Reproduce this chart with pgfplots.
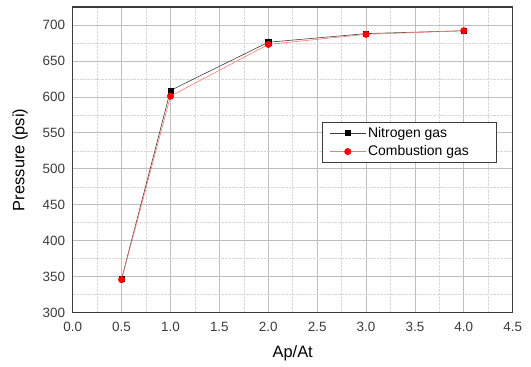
\documentclass[border=0pt]{standalone}
\usepackage{pgfplots}
\pgfplotsset{compat=1.18}
\usepackage{fontspec}
\setmainfont{Liberation Sans}
\definecolor{txt}{RGB}{60,60,60}
\definecolor{majgrid}{RGB}{190,190,190}
\definecolor{mingrid}{RGB}{215,215,215}
\definecolor{combline}{RGB}{255,120,120}
\begin{document}
\begin{tikzpicture}
\begin{axis}[
  at={(0,0)}, anchor=south west,
  scale only axis,
  width=440bp, height=305.7bp,
  xmin=0, xmax=4.5, ymin=300, ymax=725,
  xtick={0,0.5,...,4.5},
  ytick={300,350,...,700},
  minor x tick num=1, minor y tick num=1,
  xticklabel style={/pgf/number format/fixed,/pgf/number format/fixed zerofill,/pgf/number format/precision=1, yshift=-6bp},
  yticklabel style={xshift=-4bp},
  /pgf/number format/assume math mode=true,
  tick label style={font=\fontsize{13.5}{14}\selectfont, text=txt},
  grid=both,
  major grid style={majgrid, line width=0.8pt},
  minor grid style={mingrid, densely dotted, line width=0.6pt},
  axis line style={txt, line width=1.1pt},
  tick style={draw=none},
  xlabel={Ap/At}, ylabel={Pressure (psi)},
  label style={font=\fontsize{16.5}{17}\selectfont, text=black},
  xlabel style={yshift=-7bp},
  ylabel style={yshift=8bp},
  legend style={at={(0.567,0.624)}, anchor=north west, draw=txt, line width=0.6pt,
    font=\fontsize{14}{15}\selectfont, row sep=3bp, inner xsep=7bp, inner ysep=3bp},
  legend cell align=left,
  legend image code/.code={%
    \draw[mark repeat=2,mark phase=2] plot coordinates {(0bp,0bp) (18bp,0bp) (36bp,0bp)};},
]
\addplot[black!75, line width=0.6pt, mark=square*, mark size=2.6pt, mark options={black, solid}]
  coordinates {(0.5,347) (1.0,609) (2.0,676) (3.0,688) (4.0,692)};
\addlegendentry{Nitrogen gas}
\addplot[combline, line width=0.6pt, mark=*, mark size=3.2pt, mark options={red, draw=red, fill=red}]
  coordinates {(0.5,346) (1.0,601) (2.0,673) (3.0,687) (4.0,692)};
\addlegendentry{Combustion gas\rule{18bp}{0pt}}
\end{axis}
\path (-72.7bp,-54.3bp) rectangle (458.3bp,312.7bp);
\end{tikzpicture}
\end{document}
